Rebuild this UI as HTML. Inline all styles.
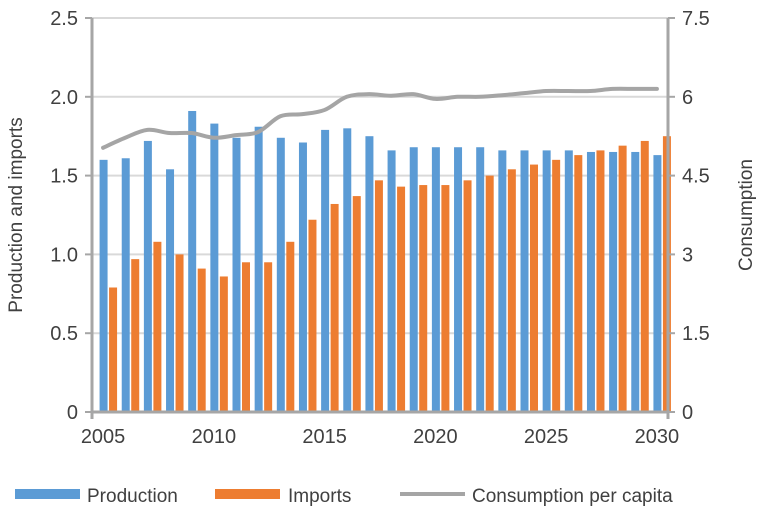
<!DOCTYPE html>
<html><head><meta charset="utf-8"><style>
body{margin:0;background:#fff;}
svg text{font-family:"Liberation Sans",sans-serif;fill:#404040;}
</style></head><body>
<svg width="768" height="515" viewBox="0 0 768 515">
<g id="grid"></g>
<g id="bars"></g>
<g id="line"></g>
<g id="axes"></g>
<text transform="translate(22,215) rotate(-90)" text-anchor="middle" font-size="19">Production and imports</text>
<text transform="translate(752,215) rotate(-90)" text-anchor="middle" font-size="19">Consumption</text>
<g>
<rect x="15" y="489" width="65" height="10" fill="#5b9bd5"/>
<text x="87" y="502" font-size="19">Production</text>
<rect x="215" y="489" width="65" height="10" fill="#ed7d31"/>
<text x="288" y="502" font-size="19">Imports</text>
<line x1="400" y1="494" x2="465" y2="494" stroke="#a5a5a5" stroke-width="4"/>
<text x="472" y="502" font-size="19">Consumption per capita</text>
</g>
</svg>
<script>
const years=[2005,2006,2007,2008,2009,2010,2011,2012,2013,2014,2015,2016,2017,2018,2019,2020,2021,2022,2023,2024,2025,2026,2027,2028,2029,2030];
const production=[1.60,1.61,1.72,1.54,1.91,1.83,1.74,1.81,1.74,1.71,1.79,1.80,1.75,1.66,1.68,1.68,1.68,1.68,1.66,1.66,1.66,1.66,1.65,1.65,1.65,1.63];
const imports=[0.79,0.97,1.08,1.00,0.91,0.86,0.95,0.95,1.08,1.22,1.32,1.37,1.47,1.43,1.44,1.44,1.47,1.50,1.54,1.57,1.60,1.63,1.66,1.69,1.72,1.75];
const consumption=[5.03,5.22,5.37,5.31,5.31,5.22,5.27,5.33,5.63,5.67,5.75,6.00,6.05,6.02,6.05,5.96,6.00,6.00,6.03,6.07,6.11,6.11,6.11,6.15,6.15,6.15];
const leftTicks=["0","0.5","1.0","1.5","2.0","2.5"];
const rightTicks=["0","1.5","3","4.5","6","7.5"];
const xLabels=[2005,2010,2015,2020,2025,2030];
const NS="http://www.w3.org/2000/svg";
const X0=92,X1=668,Y0=412,Y1=18;
const step=(X1-X0)/years.length;
function xc(i){return X0+step*(i+0.5);}
function yL(v){return Y0-(v/2.5)*(Y0-Y1);}
function yR(v){return Y0-(v/7.5)*(Y0-Y1);}
function mk(tag,attrs,parent){const e=document.createElementNS(NS,tag);for(const k in attrs)e.setAttribute(k,attrs[k]);parent.appendChild(e);return e;}
const grid=document.getElementById('grid'),bars=document.getElementById('bars'),line=document.getElementById('line'),axes=document.getElementById('axes');
leftTicks.forEach((t,i)=>{const v=i*0.5;const y=yL(v);
 if(i>0){const g=mk('line',{x1:X0,x2:X1,y1:y,y2:y,stroke:'#d9d9d9','stroke-width':2},grid);
 
 }
 const tk=mk('line',{x1:X0-7,x2:X0,y1:y,y2:y,stroke:'#a6a6a6','stroke-width':2},axes);
 
 
 const tx=mk('text',{x:X0-14,y:y+7,'text-anchor':'end','font-size':20},axes);tx.textContent=t;
 
 
 const tk2=mk('line',{x1:X1,x2:X1+7,y1:y,y2:y,stroke:'#a6a6a6','stroke-width':2},axes);
 
 
 const tr=mk('text',{x:X1+14,y:y+7,'text-anchor':'start','font-size':20},axes);tr.textContent=rightTicks[i];
 
 
});
years.forEach((yr,i)=>{const c=xc(i);
 const b=mk('rect',{x:c-3.5,y:yL(production[i]),width:8,height:Y0-yL(production[i]),fill:'#5b9bd5'},bars);
 
 
 const o=mk('rect',{x:c+6,y:yL(imports[i]),width:8,height:Y0-yL(imports[i]),fill:'#ed7d31'},bars);
 
 
});
const pts=consumption.map((v,i)=>[xc(i),yR(v)]);
let d='M'+pts[0][0]+','+pts[0][1];
for(let i=0;i<pts.length-1;i++){const p0=pts[Math.max(0,i-1)],p1=pts[i],p2=pts[i+1],p3=pts[Math.min(pts.length-1,i+2)];
 const c1=[p1[0]+(p2[0]-p0[0])/6,p1[1]+(p2[1]-p0[1])/6],c2=[p2[0]-(p3[0]-p1[0])/6,p2[1]-(p3[1]-p1[1])/6];
 d+=' C'+c1+' '+c2+' '+p2;}
const pl=mk('path',{d:d,fill:'none',stroke:'#a5a5a5','stroke-width':4,'stroke-linecap':'round'},line);


[[X0,Y1,X0,Y0+7],[X1,Y1,X1,Y0+7],[X0,Y0,X1,Y0]].forEach(a=>{const l=mk('line',{x1:a[0],y1:a[1],x2:a[2],y2:a[3],stroke:'#a6a6a6','stroke-width':3},axes);
 
 });
xLabels.forEach(yr=>{const i=years.indexOf(yr);const t=mk('text',{x:xc(i),y:Y0+31,'text-anchor':'middle','font-size':20},axes);t.textContent=yr;
 
 });
</script>
</body></html>
